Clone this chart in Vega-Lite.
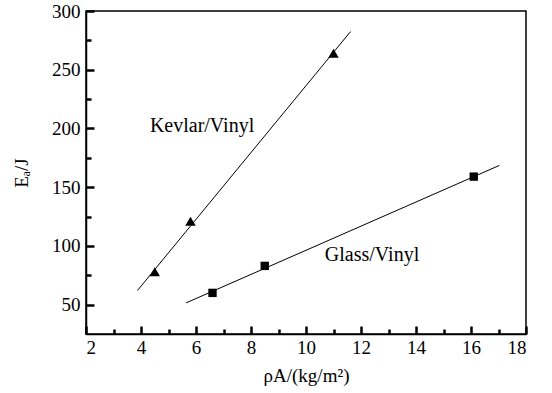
{
  "$schema": "https://vega.github.io/schema/vega-lite/v6.json",
  "width": 440,
  "height": 323,
  "autosize": "none",
  "padding": {"left": 86, "top": 11, "right": 26, "bottom": 59},
  "background": "white",
  "config": {
    "font": "Liberation Serif",
    "view": {"stroke": "black", "strokeWidth": 1.5},
    "text": {"font": "Liberation Serif"},
    "axis": {
      "grid": false,
      "domainColor": "black",
      "domainWidth": 1.5,
      "labelColor": "black",
      "labelFont": "Liberation Serif",
      "labelFontSize": 19,
      "titleColor": "black",
      "titleFont": "Liberation Serif",
      "titleFontSize": 19,
      "titleFontWeight": "normal"
    }
  },
  "datasets": {
    "lines": [
      {"series": "Kevlar/Vinyl", "x": 3.87, "y": 62},
      {"series": "Kevlar/Vinyl", "x": 11.62, "y": 282.5},
      {"series": "Glass/Vinyl", "x": 5.64, "y": 51.5},
      {"series": "Glass/Vinyl", "x": 17.03, "y": 168.5}
    ],
    "points": [
      {"series": "Kevlar/Vinyl", "x": 4.5, "y": 78},
      {"series": "Kevlar/Vinyl", "x": 5.8, "y": 121},
      {"series": "Kevlar/Vinyl", "x": 11.0, "y": 264},
      {"series": "Glass/Vinyl", "x": 6.6, "y": 60},
      {"series": "Glass/Vinyl", "x": 8.5, "y": 83},
      {"series": "Glass/Vinyl", "x": 16.1, "y": 159}
    ],
    "labels": [
      {"label": "Kevlar/Vinyl", "x": 6.22, "y": 202.5},
      {"label": "Glass/Vinyl", "x": 12.4, "y": 92.4}
    ]
  },
  "layer": [
    {
      "data": {"name": "lines"},
      "mark": {"type": "line", "color": "black", "strokeWidth": 1},
      "encoding": {
        "x": {"field": "x", "type": "quantitative", "scale": {"domain": [2, 18], "nice": false, "zero": false},
          "axis": {"orient": "bottom", "values": [2, 4, 6, 8, 10, 12, 14, 16, 18], "ticks": false, "labelPadding": 4, "title": "ρA/(kg/m²)", "titlePadding": 9}},
        "y": {"field": "y", "type": "quantitative", "scale": {"domain": [25, 300], "nice": false, "zero": false},
          "axis": {"orient": "left", "values": [50, 100, 150, 200, 250, 300], "ticks": false, "labelPadding": 6, "title": "Eₐ/J", "titlePadding": 20}},
        "detail": {"field": "series"}
      }
    },
    {
      "data": {"name": "points"},
      "mark": {"type": "point", "filled": true, "color": "black", "opacity": 1},
      "encoding": {
        "x": {"field": "x", "type": "quantitative",
          "axis": {"orient": "bottom", "values": [2, 4, 6, 8, 10, 12, 14, 16, 18], "ticks": true, "tickSize": -8, "tickWidth": 2.5, "tickColor": "#000000", "tickOpacity": 1, "labels": false, "domain": false, "title": null}},
        "y": {"field": "y", "type": "quantitative",
          "axis": {"orient": "left", "values": [50, 100, 150, 200, 250, 300], "ticks": true, "tickSize": -8, "tickWidth": 2.5, "tickColor": "#000000", "tickOpacity": 1, "labels": false, "domain": false, "title": null}},
        "shape": {"field": "series", "type": "nominal", "scale": {"domain": ["Kevlar/Vinyl", "Glass/Vinyl"], "range": ["triangle-up", "square"]}, "legend": null},
        "size": {"field": "series", "type": "nominal", "scale": {"domain": ["Kevlar/Vinyl", "Glass/Vinyl"], "range": [110, 70]}, "legend": null}
      }
    },
    {
      "data": {"name": "labels"},
      "mark": {"type": "text", "fontSize": 20, "color": "black"},
      "encoding": {
        "x": {"field": "x", "type": "quantitative",
          "axis": {"orient": "bottom", "values": [3, 5, 7, 9, 11, 13, 15, 17], "ticks": true, "tickSize": -5, "tickWidth": 2.5, "tickColor": "#000000", "tickOpacity": 1, "labels": false, "domain": false, "title": null}},
        "y": {"field": "y", "type": "quantitative",
          "axis": {"orient": "left", "values": [75, 125, 175, 225, 275], "ticks": true, "tickSize": -5, "tickWidth": 2.5, "tickColor": "#000000", "tickOpacity": 1, "labels": false, "domain": false, "title": null}},
        "text": {"field": "label"}
      }
    }
  ],
  "resolve": {"axis": {"x": "independent", "y": "independent"}}
}
